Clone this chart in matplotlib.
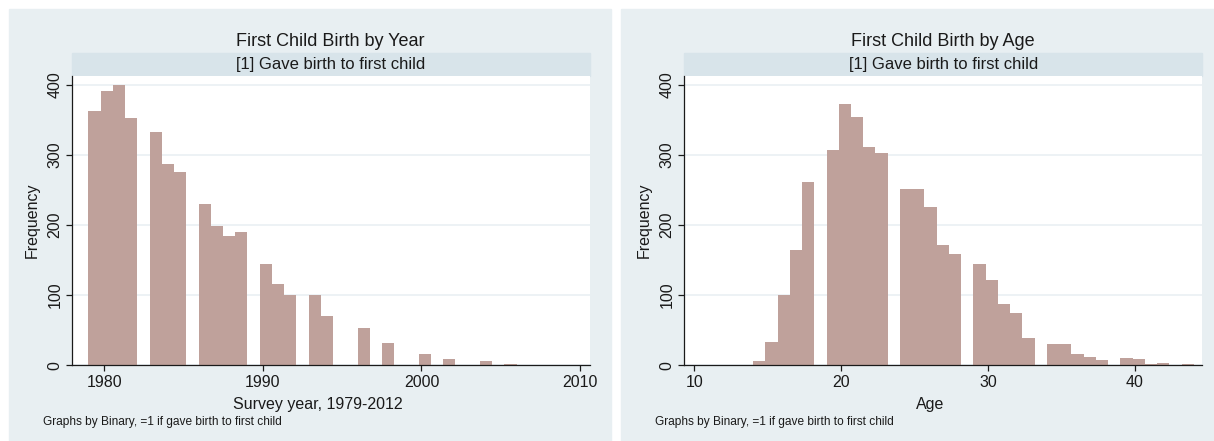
import matplotlib
matplotlib.use("Agg")
import matplotlib.pyplot as plt
import numpy as np
from matplotlib.patches import Rectangle

# first-birth counts by survey year (only even years after 1994)
years = [1979, 1980, 1981, 1982, 1983, 1984, 1985, 1986, 1987, 1988, 1989,
         1990, 1991, 1992, 1993, 1994, 1996, 1998, 2000, 2002, 2004, 2006]
year_counts = [362, 391, 400, 352, 333, 287, 275, 230, 199, 185, 190,
               145, 116, 100, 100, 70, 53, 32, 16, 9, 6, 2]

# first-birth counts by mother's age
ages = list(range(14, 45))
age_counts = [6, 33, 100, 165, 262,
              307, 373, 354, 311, 302,
              251, 251, 226, 172, 159,
              145, 122, 88, 74, 39,
              31, 30, 16, 12, 8,
              10, 9, 2, 3, 0, 2]

year_ticks = [1980, 1990, 2000, 2010]
age_ticks = [10, 20, 30, 40]
freq_ticks = [0, 100, 200, 300, 400]

W, H = 1214, 441
PANEL_BG = "#e8eff2"
STRIP_BG = "#d8e4ea"
GRID = "#eaf0f3"
BAR = "#bfa19b"
INK = "#1a1a1a"

plt.rcParams["font.family"] = ["Liberation Sans", "DejaVu Sans"]


def frac(x0, y0, x1, y1):
    return [x0 / W, 1 - y1 / H, (x1 - x0) / W, (y1 - y0) / H]


def stata_hist(ax, values, counts, lo, hi, nbins):
    # Stata-style bins: fixed start, equal width, top edge closed
    w = (hi - lo) / nbins
    v = np.asarray(values, dtype=float)
    idx = np.minimum(np.floor((v - lo) / w + 1e-9), nbins - 1).astype(int)
    heights = np.bincount(idx, weights=counts, minlength=nbins)
    lefts = lo + np.arange(nbins) * w
    keep = heights > 0
    ax.bar(lefts[keep], heights[keep], width=w, align="edge",
           color=BAR, linewidth=0, zorder=2)


fig = plt.figure(figsize=(W / 100, H / 100), dpi=100, facecolor="white")

panels = [
    dict(box=(9, 611), plot=(72, 589.5), xlim=(1977.96, 2010.6),
         title="First Child Birth by Year", xlabel="Survey year, 1979-2012",
         values=years, counts=year_counts, rng=(1979, 2006, 35), xticks=year_ticks),
    dict(box=(621, 1214), plot=(684.3, 1202), xlim=(9.32, 44.56),
         title="First Child Birth by Age", xlabel="Age",
         values=ages, counts=age_counts, rng=(14, 44, 36), xticks=age_ticks),
]

top, bottom = 76, 365.3
strip_top = 52.7

for p in panels:
    bx0, bx1 = p["box"]
    fig.patches.append(Rectangle((bx0 / W, 0), (bx1 - bx0) / W, 1 - 9 / H,
                                 transform=fig.transFigure, color=PANEL_BG, zorder=-10))
    px0, px1 = p["plot"]
    fig.patches.append(Rectangle((px0 / W, 1 - top / H), (px1 - px0) / W,
                                 (top - strip_top) / H,
                                 transform=fig.transFigure, color=STRIP_BG, zorder=-9))
    cx = (px0 + px1) / 2
    fig.text(cx / W, 1 - 41 / H, p["title"], ha="center", va="center",
             fontsize=13, color=INK)
    fig.text(cx / W, 1 - 64.5 / H, "[1] Gave birth to first child", ha="center",
             va="center", fontsize=12, color=INK)

    ax = fig.add_axes(frac(px0, top, px1, bottom))
    ax.set_zorder(1)
    ax.set_facecolor("white")
    lo, hi, nb = p["rng"]
    stata_hist(ax, p["values"], p["counts"], lo, hi, nb)
    ax.set_xlim(*p["xlim"])
    ax.set_ylim(0, 412.4)
    ax.set_xticks(p["xticks"])
    ax.set_yticks(freq_ticks)
    ax.yaxis.grid(True, color=GRID, linewidth=1.2, zorder=0)
    ax.set_axisbelow(True)
    for s in ("top", "right"):
        ax.spines[s].set_visible(False)
    for s in ("left", "bottom"):
        ax.spines[s].set_color(INK)
        ax.spines[s].set_linewidth(0.9)
    ax.tick_params(length=4, width=0.9, color=INK, labelsize=11.5, labelcolor=INK)
    ax.tick_params(axis="x", pad=3)
    ax.tick_params(axis="y", pad=3)
    for lab in ax.get_yticklabels():
        lab.set_rotation(90)
        lab.set_va("center")

    fig.text((px0 - 40) / W, 1 - (top + bottom) / 2 / H, "Frequency", rotation=90,
             ha="center", va="center", fontsize=11.5, color=INK)
    fig.text((cx - 13) / W, 1 - 404 / H, p["xlabel"], ha="center", va="center",
             fontsize=11.5, color=INK)
    fig.text((bx0 + 34) / W, 1 - 422 / H, "Graphs by Binary, =1 if gave birth to first child",
             ha="left", va="center", fontsize=8.6, color=INK)

fig.savefig("out.png", dpi=100, facecolor="white")
